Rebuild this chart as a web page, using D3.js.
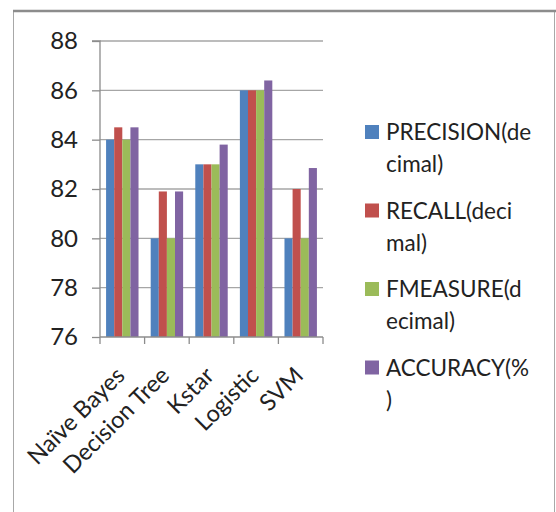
<!DOCTYPE html>
<html><head><meta charset="utf-8">
<script src="https://cdn.jsdelivr.net/npm/d3@7"></script>
<style>body{margin:0;background:#fff}svg{display:block}</style>
</head><body>
<script>
const categories = ["Naïve Bayes","Decision Tree","Kstar","Logistic","SVM"];
const seriesNames = ["PRECISION(decimal)","RECALL(decimal)","FMEASURE(decimal)","ACCURACY(%)"];
const legendLines = [["PRECISION(de","cimal)"],["RECALL(deci","mal)"],["FMEASURE(d","ecimal)"],["ACCURACY(%",")"]];
const precision = [84, 80, 83, 86, 80];
const recall    = [84.5, 81.9, 83, 86, 82];
const fmeasure  = [84, 80, 83, 86, 80];
const accuracy  = [84.5, 81.9, 83.8, 86.4, 82.85];
const yTicks = [76, 78, 80, 82, 84, 86, 88];
const colors = ["#4F81BD","#C0504D","#9BBB59","#8064A2"];
const series = [precision, recall, fmeasure, accuracy];

(function(){
const W = 556, H = 512;
const svg = d3.select("body").append("svg").attr("width", W).attr("height", H);
const font = "Lato, 'Open Sans', sans-serif";

// outer frame
svg.append("rect").attr("x", 13.5).attr("y", 11).attr("width", 541).attr("height", 520)
  .attr("fill", "none").attr("stroke", "#a8a8a8").attr("stroke-width", 1);
svg.append("line").attr("x1", 13).attr("x2", 556).attr("y1", 11).attr("y2", 11)
  .attr("stroke", "#8c8c8c").attr("stroke-width", 2.5);

const pLeft = 100, pRight = 323, pTop = 41, pBottom = 337;
const x0 = d3.scaleBand().domain(categories).range([pLeft, pRight]).paddingInner(0).paddingOuter(0);
const y = d3.scaleLinear().domain([76, 88]).range([pBottom, pTop]);
const gw = x0.bandwidth();
const barW = gw / 5.5;
const x1 = d3.scaleBand().domain(d3.range(4)).range([barW*0.75, barW*0.75 + barW*4]);

// gridlines
svg.append("g").selectAll("line").data(yTicks.slice(1)).join("line")
  .attr("x1", pLeft).attr("x2", pRight).attr("y1", d => y(d)).attr("y2", d => y(d))
  .attr("stroke", "#a6a6a6").attr("stroke-width", 1.3);

// bars
const g = svg.append("g");
categories.forEach((c, i) => {
  series.forEach((s, j) => {
    g.append("rect")
      .attr("x", x0(c) + x1(j)).attr("width", x1.bandwidth())
      .attr("y", y(s[i])).attr("height", y(76) - y(s[i]))
      .attr("fill", colors[j]);
  });
});

// y axis
const yAxis = d3.axisLeft(y).tickValues(yTicks).tickSize(8).tickPadding(14).tickFormat(d3.format("d"));
const ya = svg.append("g").attr("transform", `translate(${pLeft},0)`).call(yAxis);
ya.select(".domain").attr("stroke", "#8c8c8c").attr("stroke-width", 1.3).attr("d", `M-8,${pTop}H0V${pBottom}`);
ya.selectAll(".tick line").attr("stroke", "#8c8c8c").attr("stroke-width", 1.3);
ya.selectAll("text").attr("font-family", font).attr("font-size", 24).attr("fill", "#222");

// x axis
const xa = svg.append("g").attr("transform", `translate(0,${pBottom})`);
xa.append("line").attr("x1", pLeft).attr("x2", pRight).attr("y1", 0).attr("y2", 0)
  .attr("stroke", "#8c8c8c").attr("stroke-width", 1.3);
const edges = categories.map(c => x0(c)).concat([pRight]);
xa.selectAll("line.t").data(edges).join("line").attr("class", "t")
  .attr("x1", d => d).attr("x2", d => d).attr("y1", 0).attr("y2", 7)
  .attr("stroke", "#8c8c8c").attr("stroke-width", 1.3);
xa.selectAll("text").data(categories).join("text")
  .attr("transform", d => `translate(${x0(d) + gw/2 + 4},${40}) rotate(-45)`)
  .attr("text-anchor", "end").attr("font-family", font).attr("font-size", 23.5).attr("fill", "#222")
  .text(d => d);

// legend
const lg = svg.append("g");
seriesNames.forEach((n, i) => {
  const cy = 132 + i * 78.5;
  lg.append("rect").attr("x", 365).attr("y", cy - 7).attr("width", 14).attr("height", 14).attr("fill", colors[i]);
  const t = lg.append("text").attr("x", 386).attr("y", cy + 8)
    .attr("font-family", font).attr("font-size", 22.5).attr("fill", "#222");
  legendLines[i].forEach((ln, k) => {
    t.append("tspan").attr("x", 386).attr("dy", k === 0 ? 0 : 32).text(ln);
  });
});
})();
</script>
</body></html>
